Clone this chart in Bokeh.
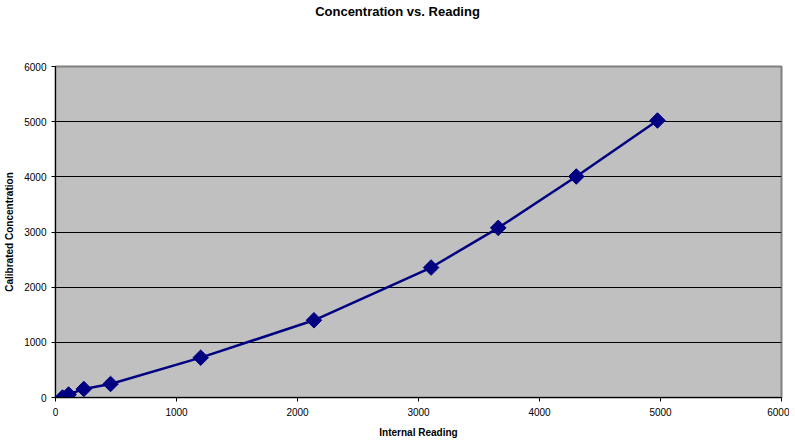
import math
from bokeh.plotting import figure
from bokeh.models import Range1d, FixedTicker, Div
from bokeh.layouts import column
from bokeh.embed import file_html
from bokeh.resources import INLINE

reading = [58, 108, 234, 455, 1200, 2136, 3104, 3659, 4304, 4975]
concentration = [0, 54, 155, 245, 722, 1400, 2356, 3075, 4006, 5021]
ticks = [0, 1000, 2000, 3000, 4000, 5000, 6000]

FONT = "Liberation Sans"

title = Div(text="Concentration vs. Reading", width=789, height=24, margin=(0, 0, 0, 0),
            styles={"font-family": FONT, "font-size": "13px", "font-weight": "bold",
                    "text-align": "center", "line-height": "24px", "color": "#000000",
                    "padding-left": "6px", "box-sizing": "border-box"})

p = figure(frame_width=726, frame_height=331,
           output_backend="svg", toolbar_location=None,
           x_range=Range1d(0, 6000), y_range=Range1d(0, 6000),
           min_border_left=55, min_border_right=8, min_border_top=42, min_border_bottom=36)

p.background_fill_color = "#C0C0C0"
p.border_fill_color = "white"
p.outline_line_color = "#808080"
p.outline_line_width = 2

p.xgrid.visible = False
p.ygrid.grid_line_color = "#000000"
p.ygrid.grid_line_width = 1
p.ygrid.ticker = FixedTicker(ticks=ticks)

for ax in (p.xaxis[0], p.yaxis[0]):
    ax.ticker = FixedTicker(ticks=ticks)
    ax.axis_line_color = "#000000"
    ax.axis_line_width = 1
    ax.major_tick_line_color = "#000000"
    ax.major_tick_in = 0
    ax.major_tick_out = 4
    ax.minor_tick_line_color = None
    ax.major_label_text_font = FONT
    ax.major_label_text_font_size = "10px"
    ax.major_label_text_color = "#000000"
    ax.axis_label_text_font = FONT
    ax.axis_label_text_font_size = "10px"
    ax.axis_label_text_font_style = "bold"
    ax.axis_label_text_color = "#000000"

p.xaxis.axis_label = "Internal Reading"
p.yaxis.axis_label = "Calibrated Concentration"
p.xaxis.major_label_standoff = 6
p.xaxis.axis_label_standoff = 8
p.yaxis.major_label_standoff = 5
p.yaxis.axis_label_standoff = 6

p.line(reading, concentration, line_color="#000080", line_width=2.5)
p.scatter(reading, concentration, marker="square", size=11, angle=math.pi / 4,
          fill_color="#000080", line_color="#000080")

layout = column(title, p, spacing=0)

open("out.html", "w").write(file_html(layout, INLINE))
